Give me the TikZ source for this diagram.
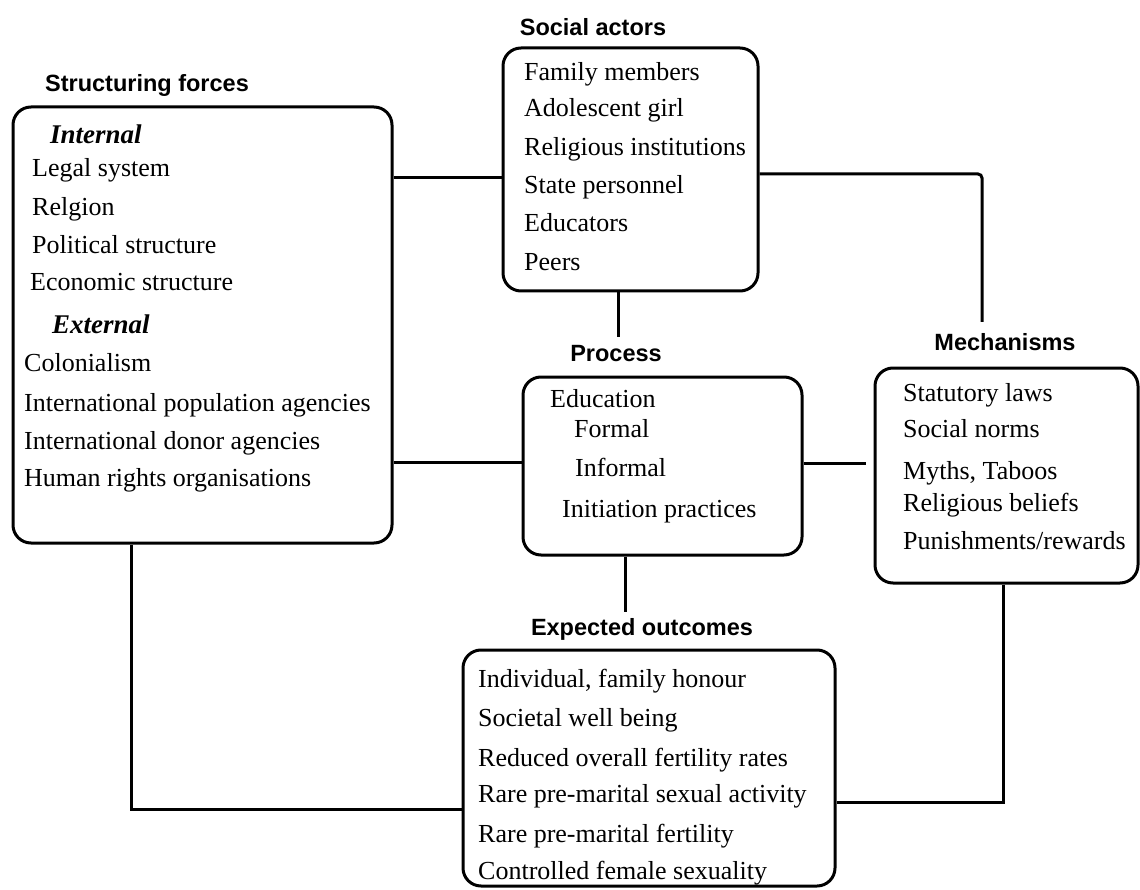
\documentclass[tikz,border=0pt]{standalone}
\usepackage{fontspec}
\setmainfont{Liberation Serif}
\newfontfamily\titlefont{Liberation Sans}
\begin{document}
\begin{tikzpicture}[x=1pt,y=-1pt,
  box/.style={draw, line width=3pt, rounded corners=18pt, inner sep=0pt},
  conn/.style={line width=3pt},
  ttl/.style={font=\titlefont\bfseries\fontsize{23.5}{28}\selectfont, anchor=base, inner sep=0pt},
  itm/.style={font=\fontsize{26}{30}\selectfont, anchor=base west, inner sep=0pt},
  sub/.style={font=\bfseries\itshape\fontsize{27}{30}\selectfont, anchor=base west, inner sep=0pt}]
\useasboundingbox (0,0) rectangle (1140,890);

% boxes
\node[box, minimum width=379pt, minimum height=436pt] (sf) at (202.5,325) {};
\node[box, minimum width=255pt, minimum height=243pt] (sa) at (630.5,169.5) {};
\node[box, minimum width=279pt, minimum height=178pt] (pr) at (662.5,466) {};
\node[box, minimum width=263pt, minimum height=215pt] (me) at (1006.5,475.5) {};
\node[box, minimum width=372pt, minimum height=236pt] (eo) at (649,768) {};

% titles
\node[ttl] (sft) at (147,91.5) {Structuring forces};
\node[ttl] (sat) at (593,35.5) {Social actors};
\node[ttl] (prt) at (616,361.5) {Process};
\node[ttl] (met) at (1005,350.5) {Mechanisms};
\node[ttl] (eot) at (642,635.5) {Expected outcomes};

% structuring forces
\node[sub] (sf0) at (50,144) {Internal};
\node[itm] (sf1) at (32,177) {Legal system};
\node[itm] (sf2) at (32,216) {Relgion};
\node[itm] (sf3) at (32,254) {Political structure};
\node[itm] (sf4) at (30,291) {Economic structure};
\node[sub] (sf5) at (52,334) {External};
\node[itm] (sf6) at (24,371) {Colonialism};
\node[itm] (sf7) at (24,411) {International population agencies};
\node[itm] (sf8) at (24,449) {International donor agencies};
\node[itm] (sf9) at (24,486) {Human rights organisations};

% social actors
\node[itm] (sa1) at (524,81) {Family members};
\node[itm] (sa2) at (524,117) {Adolescent girl};
\node[itm] (sa3) at (524,156) {Religious institutions};
\node[itm] (sa4) at (524,194) {State personnel};
\node[itm] (sa5) at (524,232) {Educators};
\node[itm] (sa6) at (524,271) {Peers};

% process
\node[itm] (pr1) at (550,407) {Education};
\node[itm] (pr2) at (574,437) {Formal};
\node[itm] (pr3) at (575,476) {Informal};
\node[itm] (pr4) at (562,517) {Initiation practices};

% mechanisms
\node[itm] (me1) at (903,401) {Statutory laws};
\node[itm] (me2) at (903,437) {Social norms};
\node[itm] (me3) at (903,479) {Myths, Taboos};
\node[itm] (me4) at (903,511) {Religious beliefs};
\node[itm] (me5) at (903,549) {Punishments/rewards};

% expected outcomes
\node[itm] (eo1) at (478,687) {Individual, family honour};
\node[itm] (eo2) at (478,726) {Societal well being};
\node[itm] (eo3) at (478,766) {Reduced overall fertility rates};
\node[itm] (eo4) at (478,802) {Rare pre-marital sexual activity};
\node[itm] (eo5) at (478,842) {Rare pre-marital fertility};
\node[itm] (eo6) at (478,879) {Controlled female sexuality};

% connectors
\coordinate (mtop) at (982,322);
\coordinate (ptop) at (618,337);
\coordinate (pright) at (866,463);
\coordinate (pbot) at (625,612);
\draw[conn] (sf.east |- 0,178) -- (sa.west |- 0,178);
\draw[conn, rounded corners=4pt] (sa.east |- 0,174) -- (mtop |- 0,174) -- (mtop);
\draw[conn] (sa.south -| ptop) -- (ptop);
\draw[conn] (sf.east |- 0,462) -- (pr.west |- 0,462);
\draw[conn] (pr.east |- pright) -- (pright);
\draw[conn] (pr.south -| pbot) -- (pbot);
\draw[conn] (sf.south -| 131,0) -- (131,809) -- (eo.west |- 0,809);
\draw[conn] (me.south -| 1003,0) -- (1003,802) -- (eo.east |- 0,802);
\end{tikzpicture}
\end{document}
